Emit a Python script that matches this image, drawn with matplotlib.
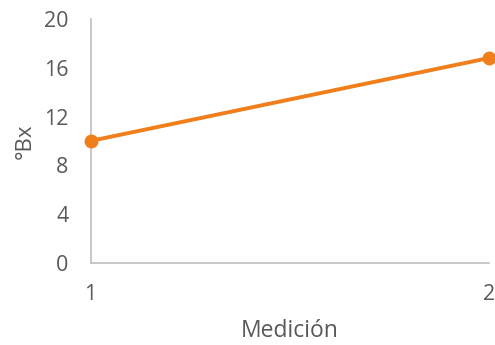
import matplotlib
matplotlib.use('Agg')
import matplotlib.pyplot as plt

medicion = [1, 2]
brix = [10.0, 16.8]
y_ticks = [0, 4, 8, 12, 16, 20]

plt.rcParams['font.family'] = ['Open Sans', 'DejaVu Sans']
gray = '#595959'

fig = plt.figure(figsize=(4.95, 3.45), dpi=100)
ax = fig.add_axes([0.183, 0.238, 0.805, 0.707])

ax.plot(medicion, brix, color='#F07F1B', linewidth=2.8, marker='o',
        markersize=9, clip_on=False, zorder=3)

ax.set_xlim(1, 2)
ax.set_ylim(0, 20)
ax.set_xticks(medicion)
ax.set_yticks(y_ticks)
ax.tick_params(length=0, labelsize=15.5, colors=gray)
ax.tick_params(axis='x', pad=15)
ax.tick_params(axis='y', pad=16)

for side in ['top', 'right']:
    ax.spines[side].set_visible(False)
for side in ['left', 'bottom']:
    ax.spines[side].set_color('#BFBFBF')
    ax.spines[side].set_linewidth(1.2)

ax.set_xlabel('Medición', fontsize=16.5, color=gray, labelpad=10)
ax.set_ylabel('°Bx', fontsize=16, color=gray, labelpad=6)

fig.savefig('out.png', dpi=100)
